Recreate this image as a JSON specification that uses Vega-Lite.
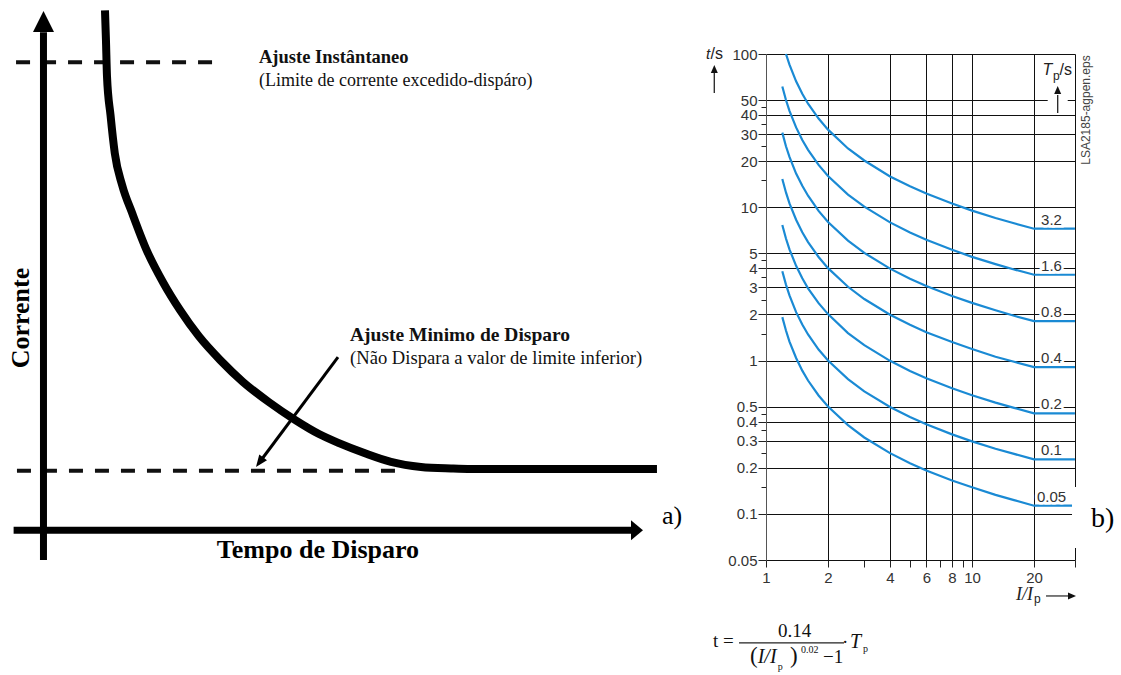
{
  "$schema": "https://vega.github.io/schema/vega-lite/v6.json",
  "background": "white",
  "padding": {"left": 7, "top": -6, "right": 0, "bottom": 0},
  "bounds": "flush",
  "spacing": 113,
  "config": {"view": {"stroke": null}},
  "hconcat": [
    {
      "width": 640,
      "height": 506,
      "encoding": {
        "x": {"field": "x", "type": "quantitative", "scale": {"domain": [-5, 100], "nice": false, "zero": false}, "axis": null},
        "y": {"field": "y", "type": "quantitative", "scale": {"domain": [-6, 94], "nice": false, "zero": false}, "axis": null}
      },
      "layer": [
        {
          "data": {"values": [{"x": -4.5, "x2": 28.6, "y": 92.35}, {"x": -4.35, "x2": 59.5, "y": 11.64}]},
          "mark": {"type": "rule", "color": "#111", "strokeWidth": 4, "strokeDash": [14, 12]},
          "encoding": {"x2": {"field": "x2"}}
        },
        {
          "data": {"values": [{"x": 0, "y": -6, "y2": 98.3}]},
          "mark": {"type": "rule", "color": "#000", "strokeWidth": 7},
          "encoding": {"y2": {"field": "y2"}}
        },
        {
          "data": {"values": [{"x": -4.9, "x2": 96.4, "y": -0.1}]},
          "mark": {"type": "rule", "color": "#000", "strokeWidth": 7},
          "encoding": {"x2": {"field": "x2"}}
        },
        {
          "data": {"values": [{"x": 0, "y": 100.4}]},
          "mark": {"type": "point", "shape": "M0,-1L-1,1L1,1Z", "size": 441, "filled": true, "color": "#000", "opacity": 1, "strokeWidth": 0}
        },
        {
          "data": {"values": [{"x": 97.37, "y": -0.1}]},
          "mark": {"type": "point", "shape": "M1,0L-1,-1.667L-1,1.667Z", "size": 144, "filled": true, "color": "#000", "opacity": 1, "strokeWidth": 0}
        },
        {
          "data": {"values": [
            {"x": 10.09, "y": 102.6}, {"x": 10.25, "y": 96.8}, {"x": 10.42, "y": 89.6}, {"x": 11.0, "y": 81.9},
            {"x": 11.7, "y": 74.4}, {"x": 12.9, "y": 68.1}, {"x": 14.6, "y": 62.4}, {"x": 16.9, "y": 55.3},
            {"x": 19.7, "y": 48.7}, {"x": 22.4, "y": 43.4}, {"x": 25.5, "y": 38.2}, {"x": 29.0, "y": 33.5},
            {"x": 32.73, "y": 29.2}, {"x": 36.99, "y": 25.2}, {"x": 41.26, "y": 21.7}, {"x": 45.2, "y": 18.9},
            {"x": 48.48, "y": 17.1}, {"x": 52.75, "y": 15.1}, {"x": 57.01, "y": 13.4}, {"x": 61.93, "y": 12.4},
            {"x": 66.86, "y": 12.1}, {"x": 70.14, "y": 12.0}, {"x": 100.65, "y": 12.0}
          ]},
          "mark": {"type": "line", "color": "#000", "strokeWidth": 8, "interpolate": "monotone", "strokeCap": "butt"},
          "encoding": {}
        },
        {
          "data": {"values": [{"x": 48.32, "y": 34.11, "x2": 35.45, "y2": 13.32}]},
          "mark": {"type": "rule", "color": "#000", "strokeWidth": 3},
          "encoding": {"x2": {"field": "x2"}, "y2": {"field": "y2"}}
        },
        {
          "data": {"values": [{"x": 35.45, "y": 13.32}]},
          "mark": {"type": "point", "shape": "M0,-1L-0.8,1L0.8,1Z", "size": 144, "angle": 216.7, "filled": true, "color": "#000", "opacity": 1, "strokeWidth": 0}
        },
        {
          "data": {"values": [{"x": 35.36, "y": 92.21, "label": "Ajuste Instântaneo"}]},
          "mark": {"type": "text", "font": "Liberation Serif", "fontSize": 18.5, "fontWeight": "bold", "align": "left", "baseline": "alphabetic", "color": "#111"},
          "encoding": {"text": {"field": "label"}}
        },
        {
          "data": {"values": [{"x": 35.36, "y": 87.67, "label": "(Limite de corrente excedido-dispáro)"}]},
          "mark": {"type": "text", "font": "Liberation Serif", "fontSize": 18, "align": "left", "baseline": "alphabetic", "color": "#111"},
          "encoding": {"text": {"field": "label"}}
        },
        {
          "data": {"values": [{"x": 50.29, "y": 37.27, "label": "Ajuste Minimo de Disparo"}]},
          "mark": {"type": "text", "font": "Liberation Serif", "fontSize": 19.5, "fontWeight": "bold", "align": "left", "baseline": "alphabetic", "color": "#111"},
          "encoding": {"text": {"field": "label"}}
        },
        {
          "data": {"values": [{"x": 50.29, "y": 32.73, "label": "(Não Dispara a valor de limite inferior)"}]},
          "mark": {"type": "text", "font": "Liberation Serif", "fontSize": 18.6, "align": "left", "baseline": "alphabetic", "color": "#111"},
          "encoding": {"text": {"field": "label"}}
        },
        {
          "data": {"values": [{"x": 45.03, "y": -5.61, "label": "Tempo de Disparo"}]},
          "mark": {"type": "text", "font": "Liberation Serif", "fontSize": 26, "fontWeight": "bold", "align": "center", "baseline": "alphabetic", "color": "#000"},
          "encoding": {"text": {"field": "label"}}
        },
        {
          "data": {"values": [{"x": -3.69, "y": 41.82, "label": "Corrente"}]},
          "mark": {"type": "text", "font": "Liberation Serif", "fontSize": 26, "fontWeight": "bold", "align": "center", "baseline": "middle", "angle": 270, "color": "#000"},
          "encoding": {"text": {"field": "label"}}
        },
        {
          "data": {"values": [{"x": 101.48, "y": 1.11, "label": "a)"}]},
          "mark": {"type": "text", "font": "Liberation Serif", "fontSize": 26, "align": "left", "baseline": "alphabetic", "color": "#000"},
          "encoding": {"text": {"field": "label"}}
        }
      ]
    },
    {
      "width": 309,
      "height": 506,
      "encoding": {
        "x": {
          "field": "I", "type": "quantitative",
          "scale": {"type": "log", "domain": [1, 31.62], "nice": false},
          "axis": {
            "title": null,
            "values": [1, 2, 3, 4, 5, 6, 7, 8, 9, 10, 20, 31.62],
            "format": "~g",
            "labelExpr": "indexof([1,2,4,6,8,10,20], datum.value) >= 0 ? datum.label : ''",
            "grid": true,
            "gridColor": "#111",
            "gridWidth": 1,
            "gridOpacity": {"condition": {"test": "indexof([2,4,6,8,10,20,31.62], datum.value) >= 0", "value": 1}, "value": 0},
            "tickSize": 7, "tickColor": "#222", "tickWidth": 1,
            "domainColor": "#111", "domainWidth": 1,
            "labelFont": "Liberation Sans", "labelFontSize": 15, "labelColor": "#333", "labelPadding": 3,
            "labelOverlap": false, "labelFlush": false, "labelBound": false
          }
        },
        "y": {
          "field": "t", "type": "quantitative",
          "scale": {"type": "log", "domain": [0.05, 100], "nice": false},
          "axis": {
            "title": null,
            "values": [0.05, 0.1, 0.15, 0.2, 0.25, 0.3, 0.35, 0.4, 0.45, 0.5, 1, 1.5, 2, 2.5, 3, 3.5, 4, 4.5, 5, 10, 15, 20, 25, 30, 35, 40, 45, 50, 100],
            "format": "~g",
            "labelExpr": "indexof([0.15,0.25,0.35,0.45,1.5,2.5,3.5,4.5,15,25,35,45], datum.value) >= 0 ? '' : datum.label",
            "grid": true,
            "gridColor": "#111",
            "gridWidth": 1,
            "gridOpacity": {"condition": {"test": "indexof([0.05,0.15,0.25,0.35,0.45,1.5,2.5,3.5,4.5,15,25,35,45], datum.value) >= 0", "value": 0}, "value": 1},
            "tickSize": {"condition": {"test": "indexof([0.15,0.25,0.35,0.45,1.5,2.5,3.5,4.5,15,25,35,45], datum.value) >= 0", "value": 5}, "value": 8},
            "tickColor": "#222", "tickWidth": 1,
            "domainColor": "#555", "domainWidth": 1,
            "labelFont": "Liberation Sans", "labelFontSize": 15, "labelColor": "#333", "labelPadding": 1,
            "labelOverlap": false, "labelBound": false
          }
        }
      },
      "layer": [
        {
          "data": {"values": [
            {"Tp": "3.2", "I": 1.25, "t": 100}, {"Tp": "3.2", "I": 1.3, "t": 85.2}, {"Tp": "3.2", "I": 1.4, "t": 66.3}, {"Tp": "3.2", "I": 1.5, "t": 55.0}, {"Tp": "3.2", "I": 1.6, "t": 47.4}, {"Tp": "3.2", "I": 1.8, "t": 37.9}, {"Tp": "3.2", "I": 2, "t": 32.1}, {"Tp": "3.2", "I": 2.5, "t": 24.2}, {"Tp": "3.2", "I": 3, "t": 20.2}, {"Tp": "3.2", "I": 4, "t": 15.9}, {"Tp": "3.2", "I": 5, "t": 13.7}, {"Tp": "3.2", "I": 6, "t": 12.3}, {"Tp": "3.2", "I": 8, "t": 10.6}, {"Tp": "3.2", "I": 10, "t": 9.51}, {"Tp": "3.2", "I": 13, "t": 8.51}, {"Tp": "3.2", "I": 16, "t": 7.86}, {"Tp": "3.2", "I": 20, "t": 7.25}, {"Tp": "3.2", "I": 31.6, "t": 7.25},
            {"Tp": "1.6", "I": 1.2, "t": 61.3}, {"Tp": "1.6", "I": 1.25, "t": 50.1}, {"Tp": "1.6", "I": 1.3, "t": 42.6}, {"Tp": "1.6", "I": 1.4, "t": 33.2}, {"Tp": "1.6", "I": 1.5, "t": 27.5}, {"Tp": "1.6", "I": 1.6, "t": 23.7}, {"Tp": "1.6", "I": 1.8, "t": 18.9}, {"Tp": "1.6", "I": 2, "t": 16.0}, {"Tp": "1.6", "I": 2.5, "t": 12.1}, {"Tp": "1.6", "I": 3, "t": 10.1}, {"Tp": "1.6", "I": 4, "t": 7.97}, {"Tp": "1.6", "I": 5, "t": 6.85}, {"Tp": "1.6", "I": 6, "t": 6.14}, {"Tp": "1.6", "I": 8, "t": 5.28}, {"Tp": "1.6", "I": 10, "t": 4.75}, {"Tp": "1.6", "I": 13, "t": 4.26}, {"Tp": "1.6", "I": 16, "t": 3.93}, {"Tp": "1.6", "I": 20, "t": 3.63}, {"Tp": "1.6", "I": 31.6, "t": 3.63},
            {"Tp": "0.8", "I": 1.2, "t": 30.7}, {"Tp": "0.8", "I": 1.25, "t": 25.0}, {"Tp": "0.8", "I": 1.3, "t": 21.3}, {"Tp": "0.8", "I": 1.4, "t": 16.6}, {"Tp": "0.8", "I": 1.5, "t": 13.8}, {"Tp": "0.8", "I": 1.6, "t": 11.9}, {"Tp": "0.8", "I": 1.8, "t": 9.47}, {"Tp": "0.8", "I": 2, "t": 8.02}, {"Tp": "0.8", "I": 2.5, "t": 6.06}, {"Tp": "0.8", "I": 3, "t": 5.04}, {"Tp": "0.8", "I": 4, "t": 3.98}, {"Tp": "0.8", "I": 5, "t": 3.42}, {"Tp": "0.8", "I": 6, "t": 3.07}, {"Tp": "0.8", "I": 8, "t": 2.64}, {"Tp": "0.8", "I": 10, "t": 2.38}, {"Tp": "0.8", "I": 13, "t": 2.13}, {"Tp": "0.8", "I": 16, "t": 1.96}, {"Tp": "0.8", "I": 20, "t": 1.81}, {"Tp": "0.8", "I": 31.6, "t": 1.81},
            {"Tp": "0.4", "I": 1.2, "t": 15.3}, {"Tp": "0.4", "I": 1.25, "t": 12.5}, {"Tp": "0.4", "I": 1.3, "t": 10.6}, {"Tp": "0.4", "I": 1.4, "t": 8.29}, {"Tp": "0.4", "I": 1.5, "t": 6.88}, {"Tp": "0.4", "I": 1.6, "t": 5.93}, {"Tp": "0.4", "I": 1.8, "t": 4.74}, {"Tp": "0.4", "I": 2, "t": 4.01}, {"Tp": "0.4", "I": 2.5, "t": 3.03}, {"Tp": "0.4", "I": 3, "t": 2.52}, {"Tp": "0.4", "I": 4, "t": 1.99}, {"Tp": "0.4", "I": 5, "t": 1.71}, {"Tp": "0.4", "I": 6, "t": 1.53}, {"Tp": "0.4", "I": 8, "t": 1.32}, {"Tp": "0.4", "I": 10, "t": 1.19}, {"Tp": "0.4", "I": 13, "t": 1.06}, {"Tp": "0.4", "I": 16, "t": 0.982}, {"Tp": "0.4", "I": 20, "t": 0.907}, {"Tp": "0.4", "I": 31.6, "t": 0.907},
            {"Tp": "0.2", "I": 1.2, "t": 7.66}, {"Tp": "0.2", "I": 1.25, "t": 6.26}, {"Tp": "0.2", "I": 1.3, "t": 5.32}, {"Tp": "0.2", "I": 1.4, "t": 4.15}, {"Tp": "0.2", "I": 1.5, "t": 3.44}, {"Tp": "0.2", "I": 1.6, "t": 2.96}, {"Tp": "0.2", "I": 1.8, "t": 2.37}, {"Tp": "0.2", "I": 2, "t": 2.01}, {"Tp": "0.2", "I": 2.5, "t": 1.51}, {"Tp": "0.2", "I": 3, "t": 1.26}, {"Tp": "0.2", "I": 4, "t": 0.996}, {"Tp": "0.2", "I": 5, "t": 0.856}, {"Tp": "0.2", "I": 6, "t": 0.767}, {"Tp": "0.2", "I": 8, "t": 0.659}, {"Tp": "0.2", "I": 10, "t": 0.594}, {"Tp": "0.2", "I": 13, "t": 0.532}, {"Tp": "0.2", "I": 16, "t": 0.491}, {"Tp": "0.2", "I": 20, "t": 0.453}, {"Tp": "0.2", "I": 31.6, "t": 0.453},
            {"Tp": "0.1", "I": 1.2, "t": 3.83}, {"Tp": "0.1", "I": 1.25, "t": 3.13}, {"Tp": "0.1", "I": 1.3, "t": 2.66}, {"Tp": "0.1", "I": 1.4, "t": 2.07}, {"Tp": "0.1", "I": 1.5, "t": 1.72}, {"Tp": "0.1", "I": 1.6, "t": 1.48}, {"Tp": "0.1", "I": 1.8, "t": 1.18}, {"Tp": "0.1", "I": 2, "t": 1.0}, {"Tp": "0.1", "I": 2.5, "t": 0.757}, {"Tp": "0.1", "I": 3, "t": 0.63}, {"Tp": "0.1", "I": 4, "t": 0.498}, {"Tp": "0.1", "I": 5, "t": 0.428}, {"Tp": "0.1", "I": 6, "t": 0.384}, {"Tp": "0.1", "I": 8, "t": 0.33}, {"Tp": "0.1", "I": 10, "t": 0.297}, {"Tp": "0.1", "I": 13, "t": 0.266}, {"Tp": "0.1", "I": 16, "t": 0.246}, {"Tp": "0.1", "I": 20, "t": 0.227}, {"Tp": "0.1", "I": 31.6, "t": 0.227},
            {"Tp": "0.05", "I": 1.2, "t": 1.92}, {"Tp": "0.05", "I": 1.25, "t": 1.57}, {"Tp": "0.05", "I": 1.3, "t": 1.33}, {"Tp": "0.05", "I": 1.4, "t": 1.04}, {"Tp": "0.05", "I": 1.5, "t": 0.86}, {"Tp": "0.05", "I": 1.6, "t": 0.741}, {"Tp": "0.05", "I": 1.8, "t": 0.592}, {"Tp": "0.05", "I": 2, "t": 0.502}, {"Tp": "0.05", "I": 2.5, "t": 0.379}, {"Tp": "0.05", "I": 3, "t": 0.315}, {"Tp": "0.05", "I": 4, "t": 0.249}, {"Tp": "0.05", "I": 5, "t": 0.214}, {"Tp": "0.05", "I": 6, "t": 0.192}, {"Tp": "0.05", "I": 8, "t": 0.165}, {"Tp": "0.05", "I": 10, "t": 0.149}, {"Tp": "0.05", "I": 13, "t": 0.133}, {"Tp": "0.05", "I": 16, "t": 0.123}, {"Tp": "0.05", "I": 20, "t": 0.113}, {"Tp": "0.05", "I": 31.6, "t": 0.113}
          ]},
          "mark": {"type": "line", "color": "#1a8ad4", "strokeWidth": 2.2},
          "encoding": {"detail": {"field": "Tp", "type": "nominal"}}
        },
        {
          "data": {"values": [{"I": 24.32, "t": 7.25, "label": "3.2"}, {"I": 24.32, "t": 3.63, "label": "1.6"}, {"I": 24.32, "t": 1.81, "label": "0.8"}, {"I": 24.32, "t": 0.907, "label": "0.4"}, {"I": 24.32, "t": 0.453, "label": "0.2"}, {"I": 24.32, "t": 0.227, "label": "0.1"}, {"I": 24.32, "t": 0.113, "label": "0.05"}]},
          "layer": [
            {"mark": {"type": "text", "font": "Liberation Sans", "fontSize": 15, "align": "center", "baseline": "alphabetic", "dy": -4, "stroke": "white", "strokeWidth": 5, "color": "white"}, "encoding": {"text": {"field": "label"}}},
            {"mark": {"type": "text", "font": "Liberation Sans", "fontSize": 15, "align": "center", "baseline": "alphabetic", "dy": -4, "color": "#333"}, "encoding": {"text": {"field": "label"}}}
          ]
        },
        {
          "data": {"values": [{"I": 26.06, "t": 52.4, "t2": 45.8}]},
          "mark": {"type": "rule", "color": "white", "strokeWidth": 20},
          "encoding": {"y2": {"field": "t2"}}
        },
        {
          "data": {"values": [{"I": 0.561, "t": 78.6, "t2": 55.7}, {"I": 26.06, "t": 54.0, "t2": 41.2}]},
          "mark": {"type": "rule", "color": "#222", "strokeWidth": 1.3},
          "encoding": {"y2": {"field": "t2"}}
        },
        {
          "data": {"values": [{"I": 22.87, "I2": 29.57, "t": 0.02913}, {"I": 0.7396, "I2": 2.391, "t": 0.01439}]},
          "mark": {"type": "rule", "color": "#222", "strokeWidth": 1.2},
          "encoding": {"x2": {"field": "I2"}}
        },
        {
          "data": {"values": [{"I": 0.561, "t": 79.85}, {"I": 26.06, "t": 58.2}]},
          "mark": {"type": "point", "shape": "M0,-1L-0.875,1L0.875,1Z", "size": 64, "filled": true, "color": "#111", "opacity": 1, "strokeWidth": 0}
        },
        {
          "data": {"values": [{"I": 30.58, "t": 0.02913}]},
          "mark": {"type": "point", "shape": "M0,-1L-0.875,1L0.875,1Z", "size": 64, "angle": 90, "filled": true, "color": "#111", "opacity": 1, "strokeWidth": 0}
        },
        {
          "data": {"values": [{"I": 0.5113, "t": 92.8, "label": "t"}]},
          "mark": {"type": "text", "font": "Liberation Sans", "fontSize": 15, "fontStyle": "italic", "align": "left", "baseline": "alphabetic", "color": "#222"},
          "encoding": {"text": {"field": "label"}}
        },
        {
          "data": {"values": [{"I": 0.5377, "t": 92.8, "label": "/s"}, {"I": 26.6, "t": 72.95, "label": "/s"}]},
          "mark": {"type": "text", "font": "Liberation Sans", "fontSize": 16, "align": "left", "baseline": "alphabetic", "color": "#222"},
          "encoding": {"text": {"field": "label"}}
        },
        {
          "data": {"values": [{"I": 22.0, "t": 72.95, "label": "T"}]},
          "mark": {"type": "text", "font": "Liberation Sans", "fontSize": 16, "fontStyle": "italic", "align": "left", "baseline": "alphabetic", "color": "#222"},
          "encoding": {"text": {"field": "label"}}
        },
        {
          "data": {"values": [{"I": 24.75, "t": 67.7, "label": "p"}, {"I": 20.0, "t": 0.02623, "label": "p"}]},
          "mark": {"type": "text", "font": "Liberation Sans", "fontSize": 12, "align": "left", "baseline": "alphabetic", "color": "#222"},
          "encoding": {"text": {"field": "label"}}
        },
        {
          "data": {"values": [{"I": 35.76, "t": 43.1, "label": "LSA2185-agpen.eps"}]},
          "mark": {"type": "text", "font": "Liberation Sans", "fontSize": 12, "align": "center", "baseline": "middle", "angle": 270, "color": "#444"},
          "encoding": {"text": {"field": "label"}}
        },
        {
          "data": {"values": [{"I": 16.35, "t": 0.02745, "label": "I/I"}]},
          "mark": {"type": "text", "font": "Liberation Serif", "fontSize": 18, "fontStyle": "italic", "align": "left", "baseline": "alphabetic", "color": "#222"},
          "encoding": {"text": {"field": "label"}}
        },
        {
          "data": {"values": [{"I": 0.5529, "t": 0.013544, "label": "t ="}, {"I": 1.1438, "t": 0.01573, "label": "0.14"}, {"I": 1.891, "t": 0.01065, "label": "−1"}, {"I": 2.338, "t": 0.01334, "label": "·"}]},
          "mark": {"type": "text", "font": "Liberation Serif", "fontSize": 19, "align": "left", "baseline": "alphabetic", "color": "#111"},
          "encoding": {"text": {"field": "label"}}
        },
        {
          "data": {"values": [{"I": 0.8363, "t": 0.01065, "label": "("}, {"I": 1.3079, "t": 0.01065, "label": ")"}]},
          "mark": {"type": "text", "font": "Liberation Serif", "fontSize": 23, "align": "left", "baseline": "alphabetic", "color": "#111"},
          "encoding": {"text": {"field": "label"}}
        },
        {
          "data": {"values": [{"I": 0.9114, "t": 0.01065, "label": "I/I"}, {"I": 2.557, "t": 0.01334, "label": "T"}]},
          "mark": {"type": "text", "font": "Liberation Serif", "fontSize": 20, "fontStyle": "italic", "align": "left", "baseline": "alphabetic", "color": "#111"},
          "encoding": {"text": {"field": "label"}}
        },
        {
          "data": {"values": [{"I": 1.14, "t": 0.009587, "label": "p"}, {"I": 1.479, "t": 0.01238, "label": "0.02"}, {"I": 2.957, "t": 0.01257, "label": "p"}]},
          "mark": {"type": "text", "font": "Liberation Serif", "fontSize": 10, "align": "left", "baseline": "alphabetic", "color": "#111"},
          "encoding": {"text": {"field": "label"}}
        },
        {
          "data": {"values": [{"I": 30.58, "I2": 53.5, "t": 0.1498, "t2": 0.0599}]},
          "mark": {"type": "rect", "color": "white", "opacity": 1},
          "encoding": {"x2": {"field": "I2"}, "y2": {"field": "t2"}}
        },
        {
          "data": {"values": [{"I": 37.82, "t": 0.0821, "label": "b)"}]},
          "mark": {"type": "text", "font": "Liberation Serif", "fontSize": 28, "align": "left", "baseline": "alphabetic", "color": "#000"},
          "encoding": {"text": {"field": "label"}}
        }
      ]
    }
  ]
}
